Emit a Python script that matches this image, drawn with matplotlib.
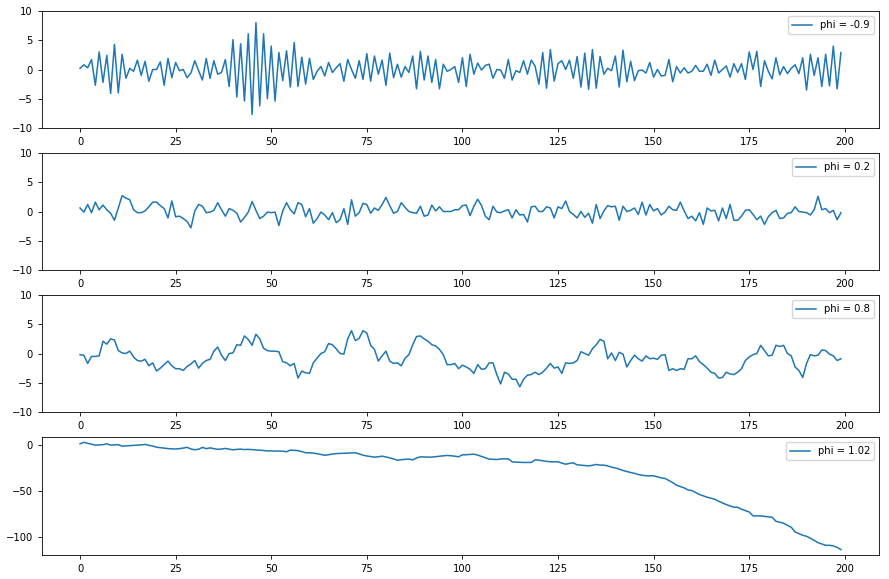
import numpy as np
import matplotlib
matplotlib.use("Agg")
import matplotlib.pyplot as plt

# values, one series per AR(1) coefficient
PHIS = [-0.9, 0.2, 0.8, 1.02]

SERIES_M09 = [
    0.2, 0.8, 0.3, 1.7, -2.7, 3.0, -2.2, 2.4, -4.1, 4.3,
    -4.0, 2.6, -1.5, 0.2, -0.3, 1.6, -1.0, 1.4, -2.0, 0.0,
    0.0, 1.3, -2.7, 1.9, -1.4, 1.2, -0.2, 0.0, -1.4, -0.6,
    1.5, -0.2, -1.8, 1.9, -1.5, 1.5, -0.8, -0.5, 1.7, -2.9,
    5.1, -4.7, 4.4, -5.4, 6.1, -7.7, 8.0, -6.2, 6.1, -5.0,
    4.0, -5.4, 2.9, -1.9, 3.2, -3.0, 4.6, -2.9, 2.1, -2.5,
    1.9, -1.7, -0.3, 0.5, -1.1, 1.2, -0.5, 0.3, 1.0, -2.0,
    1.7, 0.0, -1.5, 1.5, -1.7, 2.7, -2.0, 2.3, -0.8, 1.6,
    -2.7, 2.8, -1.4, 0.9, -1.3, 0.5, -0.5, 2.3, -3.3, 3.1,
    -1.8, 2.3, -2.2, 1.7, -3.3, 0.9, -0.3, 0.0, 0.5, -2.2,
    2.0, -2.9, 2.6, -0.8, 1.1, -0.1, 0.7, 0.9, -1.5, 0.0,
    -0.1, -1.5, 1.7, -1.8, -0.2, -0.5, 1.5, -0.8, 1.6, 0.6,
    -2.5, 2.9, -3.2, 3.4, -2.0, 1.0, 1.5, 0.0, 1.6, -1.5,
    2.2, -3.0, 2.8, -3.4, 3.4, -3.2, 2.2, -0.8, 0.2, -0.2,
    2.3, -3.0, 3.3, -2.1, 1.4, -1.9, -0.2, -0.1, -0.6, 1.2,
    -1.3, 0.0, -1.1, -1.0, 1.7, -2.1, 0.5, -0.6, 0.3, -0.6,
    -0.3, 0.7, -0.3, -0.3, 0.9, -1.0, 1.6, -0.6, 0.0, 0.6,
    -1.3, 1.0, -0.5, 1.0, -1.7, 3.0, 0.0, 3.1, -2.9, 1.5,
    -0.3, -1.6, 2.0, -0.9, 0.5, -0.7, 0.2, 0.8, -0.7, 2.0,
    -3.5, 2.6, -1.0, 2.0, -2.9, 2.6, -2.8, 4.0, -3.3, 2.9,
]

SERIES_02 = [
    0.6, -0.1, 1.2, -0.2, 1.6, 0.3, 1.1, 0.3, -0.3, -1.5,
    0.6, 2.7, 2.3, 2.0, 0.3, -0.2, -0.2, 0.1, 0.8, 1.6,
    1.6, 1.0, 0.5, -1.1, 1.8, -0.9, -0.8, -1.2, -1.7, -2.8,
    0.1, 1.2, 0.9, -0.2, -0.1, 0.2, 1.5, 0.3, -0.8, 0.5,
    0.2, -0.3, -1.8, -1.0, -0.1, 1.7, 0.2, -1.2, -0.8, -0.1,
    -0.2, -0.1, -2.4, 0.1, 1.5, 0.3, -0.4, 1.5, 1.2, -0.9,
    0.5, -2.0, -1.2, -0.1, -0.6, -1.4, -0.2, -1.9, -1.4, 0.5,
    -2.2, 2.0, -0.8, -0.2, 1.4, 1.2, -0.3, 0.6, 0.2, 1.2,
    2.4, 1.0, -0.3, 0.0, 1.5, 0.7, 0.0, -0.2, -0.3, 0.9,
    -0.8, -0.6, 1.1, 0.1, 0.8, 0.0, 0.0, 0.0, 0.3, 0.3,
    1.0, 1.1, -0.7, 0.9, 2.1, 1.0, -0.8, -1.4, 0.9, -0.1,
    -0.2, 0.1, 0.3, -1.1, 0.3, -0.6, -0.5, -1.8, 0.8, 0.9,
    0.0, 0.0, 0.8, 0.6, -1.1, 0.8, 0.5, 1.8, 0.0, -0.5,
    -1.1, 0.0, -1.0, -0.3, -2.0, 1.2, -1.2, 0.1, 1.0, 0.8,
    0.9, -1.5, 0.9, 0.0, 0.2, 0.6, -0.5, 1.6, -0.6, 1.2,
    0.1, 0.5, -0.6, -0.1, 0.9, 0.3, 0.2, 1.6, 0.1, -1.2,
    -0.8, -1.6, -0.2, -2.2, 0.6, 0.1, 0.2, -1.6, 0.6, -1.2,
    1.2, -1.5, -1.5, -0.8, 0.2, 0.3, -0.5, -1.4, -0.8, -2.2,
    -0.9, -0.2, 0.2, -1.2, -1.1, -0.3, -0.2, 0.8, 0.0, -0.1,
    -0.2, -0.6, 0.3, 2.6, 0.3, 0.5, -0.2, 0.2, -1.4, -0.2,
]

SERIES_08 = [
    -0.2, -0.3, -1.7, -0.5, -0.5, -0.4, 2.1, 1.6, 2.5, 2.3,
    0.5, 0.1, 0.0, 0.4, -0.6, -1.2, -1.3, -1.0, -2.1, -1.6,
    -3.0, -2.5, -1.9, -1.3, -2.1, -2.6, -2.6, -2.9, -2.2, -1.8,
    -1.2, -2.5, -1.7, -1.2, -1.0, 0.4, 1.1, -0.3, -1.2, 0.0,
    0.1, 1.5, 1.4, 3.0, 2.4, 1.4, 3.3, 2.5, 0.9, 0.5,
    0.4, 0.4, 0.3, -1.4, -1.6, -2.1, -1.7, -4.2, -3.0, -3.3,
    -3.4, -1.6, -0.8, 0.0, 0.3, 1.7, 1.5, 0.8, 0.0, -0.1,
    2.5, 3.9, 2.2, 2.6, 3.9, 3.5, 1.4, 0.7, -1.3, -0.4,
    0.4, -1.3, -1.7, -1.6, -2.1, -0.8, -0.2, 1.5, 2.9, 3.0,
    2.5, 2.1, 1.5, 1.3, 0.7, -0.2, -1.9, -1.9, -1.7, -2.6,
    -2.0, -2.3, -2.7, -3.4, -1.9, -2.7, -2.6, -1.6, -1.6, -3.6,
    -5.2, -3.2, -3.5, -4.4, -4.4, -5.7, -4.4, -3.7, -3.6, -3.2,
    -3.6, -3.2, -2.5, -1.7, -2.5, -2.3, -3.4, -1.6, -1.7, -1.6,
    -1.2, 0.3, 0.0, -0.3, 0.8, 1.5, 2.4, 2.1, -0.9, 0.1,
    -1.2, 0.2, -0.1, -2.3, -1.2, -0.3, -0.9, -1.3, -0.4, -0.9,
    -0.8, -1.0, -0.3, -0.2, -2.9, -2.6, -2.9, -2.6, -2.7, -0.9,
    -0.9, -0.4, -1.4, -1.9, -2.5, -3.2, -3.4, -4.2, -4.1, -3.2,
    -3.5, -3.6, -3.2, -2.6, -1.2, -0.6, -0.2, 0.0, 1.4, 0.5,
    -0.4, -0.3, 1.4, 1.2, 1.4, 0.0, -0.4, -2.3, -2.9, -4.1,
    -1.7, -0.2, -0.4, -0.3, 0.6, 0.5, -0.1, -0.4, -1.2, -0.9,
]

SERIES_102 = [
    1.5, 3.0, 2.0, 1.0, 0.0, 0.2, 0.5, 1.5, 0.0, 0.3,
    0.5, -1.1, -0.8, -0.6, -0.3, 0.0, 0.2, 0.8, -0.2, -1.0,
    -2.2, -2.8, -3.2, -3.8, -4.0, -4.2, -3.8, -3.2, -2.4, -4.2,
    -5.0, -4.5, -2.5, -3.8, -3.0, -3.8, -4.6, -4.2, -3.6, -4.3,
    -5.1, -4.6, -4.4, -4.8, -4.6, -4.9, -5.2, -5.5, -5.8, -6.3,
    -6.3, -6.5, -6.4, -6.6, -7.2, -5.4, -5.6, -6.0, -7.0, -8.3,
    -8.3, -8.6, -9.3, -10.2, -11.0, -10.4, -9.6, -9.2, -9.0, -8.8,
    -8.5, -8.4, -8.3, -9.5, -10.9, -11.8, -12.4, -13.0, -12.6, -12.0,
    -12.8, -13.8, -15.0, -16.3, -15.8, -15.4, -15.2, -16.0, -14.0, -12.7,
    -12.9, -13.0, -13.0, -12.5, -12.0, -11.6, -11.2, -11.5, -12.0, -12.7,
    -10.5, -10.4, -10.1, -9.8, -10.8, -12.3, -13.8, -15.2, -15.4, -15.6,
    -15.0, -14.8, -14.9, -18.1, -18.5, -18.7, -18.8, -18.8, -18.8, -16.0,
    -16.3, -17.0, -17.5, -18.1, -18.1, -18.1, -19.5, -20.7, -19.8, -19.2,
    -21.4, -21.8, -22.1, -22.5, -21.9, -21.0, -21.7, -21.7, -22.6, -23.9,
    -24.8, -26.0, -27.5, -28.6, -29.7, -30.6, -31.9, -32.6, -33.3, -33.3,
    -33.3, -34.4, -35.5, -36.2, -38.4, -40.6, -43.5, -45.0, -46.4, -48.6,
    -49.3, -51.5, -53.6, -55.0, -56.5, -57.6, -58.7, -60.9, -62.7, -64.5,
    -65.9, -67.4, -67.4, -69.6, -71.0, -72.5, -76.8, -76.8, -76.8, -77.3,
    -77.8, -78.3, -82.6, -83.7, -84.8, -87.0, -89.1, -94.2, -96.0, -97.8,
    -98.9, -101.0, -103.3, -105.8, -107.2, -108.7, -108.7, -109.4, -110.9, -113.4,
]

ALL_SERIES = [SERIES_M09, SERIES_02, SERIES_08, SERIES_102]

fig = plt.figure(figsize=(8.89, 5.79), dpi=100)

BOXES = [(11, 128), (153, 270), (295, 412), (437, 555)]
LEFT, RIGHT = 42, 879
W, H = 889, 579

for (top, bot), phi, series in zip(BOXES, PHIS, ALL_SERIES):
    ax = fig.add_axes([LEFT / W, 1 - bot / H, (RIGHT - LEFT) / W, (bot - top) / H])
    y = np.array(series)
    ax.plot(np.arange(len(y)), y, color="#1f77b4", linewidth=1.1, label=f"phi = {phi}")
    if phi < 1:
        ax.set_ylim(-10, 10)
        ax.set_yticks([-10, -5, 0, 5, 10])
    ax.set_xticks([0, 25, 50, 75, 100, 125, 150, 175, 200])
    ax.tick_params(labelsize=7.2, length=3, width=0.6)
    for s in ax.spines.values():
        s.set_linewidth(0.6)
    ax.legend(loc="upper right", fontsize=7.2, handlelength=2.0)

fig.savefig("out.png", dpi=100)
